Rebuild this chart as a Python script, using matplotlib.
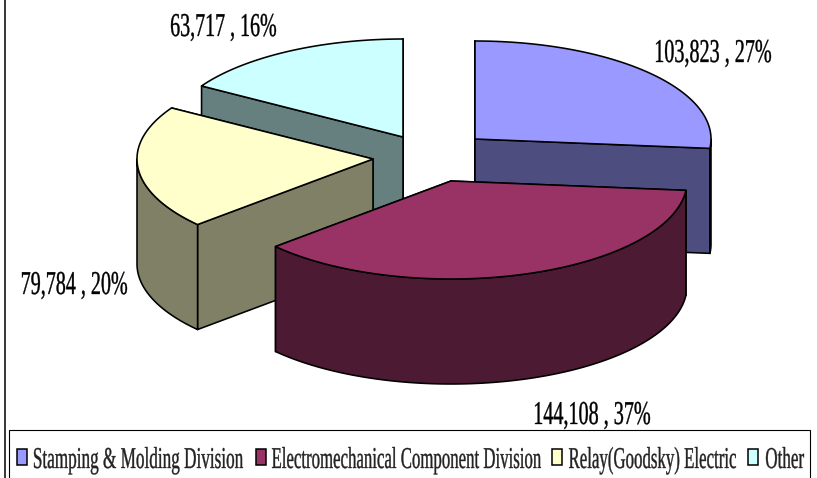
import numpy as np
import matplotlib
matplotlib.use("Agg")
import matplotlib.pyplot as plt
from matplotlib.font_manager import FontProperties
from matplotlib.patches import Polygon, Rectangle
from matplotlib.text import Text
from matplotlib.textpath import TextPath
from matplotlib.transforms import Affine2D, Bbox

# ---- data ----
categories = ["Stamping & Molding Division", "Electromechanical Component Division",
              "Relay(Goodsky) Electric", "Other"]
values = [103823, 144108, 79784, 63717]

# ---- style ----
top_colors = ["#9999FF", "#993366", "#FFFFCC", "#CCFFFF"]
side_colors = ["#4D4D80", "#4D1A33", "#808066", "#668080"]
centers = [(475, 139), (451, 181), (373, 159), (403, 137)]
draw_order = [3, 0, 2, 1]
label_pos = [(656, 51), (535, 413), (22, 283), (171, 25)]
label_w = [115, 115, 105, 105]
legend_sw_x = [17, 256, 552, 748]
legend_tx_x = [34, 272, 569, 766]
legend_tx_w = [209, 269, 167, 38]
RX, RY, DEPTH = 236, 98, 105
W, H = 817, 478
FAMILY = "Liberation Serif"
DPI = 100


class TallText(Text):
    """Text artist sized to its pixel width and drawn stretched to a given digit height."""

    def __init__(self, x, y, s, width, digit_h, **kw):
        probe = TextPath((0, 0), s, size=10, prop=FontProperties(family=FAMILY))
        fs_px = 10 * width / probe.get_extents().width
        super().__init__(x, y, s, fontsize=fs_px * 72 / DPI, family=FAMILY,
                         ha="left", va="center", **kw)
        self._target_w = width
        self._digit_h = digit_h

    def _geom(self):
        fp = self.get_fontproperties()
        px = fp.get_size_in_points() * DPI / 72
        tp = TextPath((0, 0), self.get_text(), size=px, prop=fp)
        ext = tp.get_extents()
        cap = TextPath((0, 0), "1", size=px, prop=fp).get_extents().height
        sy = self._digit_h / cap
        x, y = self.get_transform().transform(self.get_position())
        tr = (Affine2D().translate(-ext.x0, -cap / 2)
              .scale(self._target_w / ext.width, sy).translate(x, y))
        return tp, tr, ext

    def draw(self, renderer):
        tp, tr, ext = self._geom()
        gc = renderer.new_gc()
        gc.set_linewidth(0.25)
        gc.set_foreground(self.get_color())
        renderer.draw_path(gc, tp, tr, rgbFace=matplotlib.colors.to_rgba(self.get_color()))
        gc.restore()

    def get_window_extent(self, renderer=None, dpi=None):
        tp, tr, ext = self._geom()
        return Bbox(tr.transform(ext.get_points()))


fig = plt.figure(figsize=(W / DPI, H / DPI), dpi=DPI)
ax = fig.add_axes([0, 0, 1, 1])
ax.set_xlim(0, W)
ax.set_ylim(H, 0)
ax.axis("off")

total = sum(values)
edges = np.concatenate([[0], np.cumsum(values)]) / total * 2 * np.pi


def point(c, a):
    return np.column_stack([c[0] + RX * np.sin(a), c[1] - RY * np.cos(a)])


LW = 1.15
for i in draw_order:
    c = centers[i]
    a0, a1 = edges[i], edges[i + 1]
    arc = point(c, np.linspace(a0, a1, 120))
    down = np.array([0, DEPTH])
    apex = np.array([c])
    kw = dict(edgecolor="black", linewidth=LW, joinstyle="round")
    # radial cut faces, rear one first
    for p in sorted((arc[0], arc[-1]), key=lambda q: q[1]):
        quad = np.vstack([apex, [p], [p + down], apex + down])
        ax.add_patch(Polygon(quad, closed=True, facecolor=side_colors[i], **kw))
    # outer rim (front-facing part)
    lo, hi = max(a0, np.pi / 2), min(a1, 3 * np.pi / 2)
    if hi > lo:
        rim = point(c, np.linspace(lo, hi, 120))
        ax.add_patch(Polygon(np.vstack([rim, rim[::-1] + down]), closed=True,
                             facecolor=side_colors[i], **kw))
    # top face
    ax.add_patch(Polygon(np.vstack([apex, arc]), closed=True, facecolor=top_colors[i], **kw))

for i, v in enumerate(values):
    s = f"{v:,} , {round(100 * v / total)}%"
    ax.add_artist(TallText(*label_pos[i], s, label_w[i], 22, color="black"))

# outer frame and legend box
ax.plot([5, 5], [0, H], color="black", lw=1.1)
ax.add_patch(Rectangle((9, 430), 801, 60, facecolor="white", edgecolor="black", linewidth=0.8))
for i, name in enumerate(categories):
    ax.add_patch(Rectangle((legend_sw_x[i], 449), 10.5, 16, facecolor=top_colors[i],
                           edgecolor="black", linewidth=1.1))
    ax.add_artist(TallText(legend_tx_x[i], 458, name, legend_tx_w[i], 20, color="#222222"))

fig.savefig("out.png", dpi=DPI, facecolor="white")
